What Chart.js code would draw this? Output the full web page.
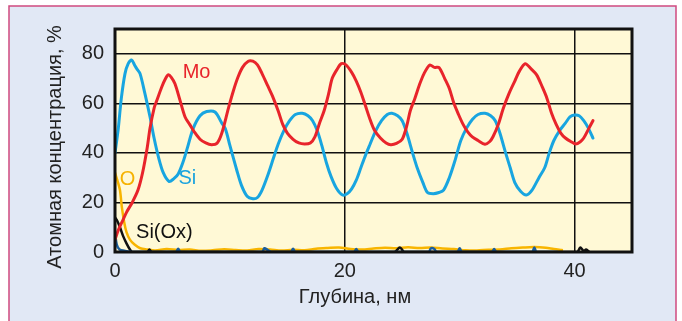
<!DOCTYPE html>
<html>
<head>
<meta charset="utf-8">
<script src="https://cdn.jsdelivr.net/npm/chart.js@4"></script>
<style>
  html, body { margin: 0; padding: 0; background: #fff; }
  canvas { display: block; }
</style>
</head>
<body>
<canvas id="grafica" width="682" height="321"></canvas>
<script>
// Глубина (нм) и концентрация (%) по каждому элементу
const moDepth = [0, 0.3, 0.7, 1.0, 1.5, 2.0, 2.4, 2.8, 3.05, 3.4, 3.63, 4.06, 4.4, 4.64, 4.9, 5.22, 5.66, 6.1, 6.5, 6.9, 7.4, 7.9, 8.4, 8.9, 9.3, 9.87, 10.3, 10.7, 11.1, 11.6, 12.0, 12.4, 12.8, 13.3, 13.7, 14.2, 14.6, 15.0, 15.5, 16.0, 16.5, 17.0, 17.4, 17.8, 18.2, 18.6, 18.9, 19.3, 19.7, 20.1, 20.6, 21.0, 21.4, 21.8, 22.2, 22.6, 23.1, 23.6, 24.0, 24.5, 25.0, 25.4, 25.7, 26.1, 26.5, 26.9, 27.4, 27.8, 28.2, 28.7, 29.1, 29.5, 29.9, 30.3, 30.7, 31.1, 31.6, 32.2, 32.6, 32.9, 33.4, 33.8, 34.3, 34.8, 35.2, 35.7, 36.2, 36.7, 37.2, 37.6, 38.0, 38.4, 38.8, 39.2, 39.7, 40.1, 40.5, 40.8, 41.2, 41.6];
const moConc = [5, 9, 13, 16, 20, 25, 32, 42, 50, 58, 61, 66.5, 70, 71.5, 70.5, 67.9, 61.2, 54.5, 51.5, 48.5, 45.5, 44, 43.3, 44, 48, 58, 65, 70.5, 74.5, 77, 77, 75.5, 72, 67, 63, 57, 51.5, 48, 45.5, 44, 43.6, 44, 46.5, 52, 57, 64, 70, 73.5, 76, 75.5, 72.5, 69, 64.5, 59, 53.5, 49, 46, 44, 43.3, 43.8, 45.5, 51, 57, 62, 67.5, 72, 75.5, 74.5, 74.5, 70, 66, 60, 55.5, 51.5, 48.5, 46.5, 45, 43.5, 44.5, 46.5, 52, 58, 64, 69, 73, 76, 74, 71.5, 66.5, 62, 56, 51.5, 48, 46, 44.5, 43.6, 44.5, 46, 49.5, 53];

const siDepth = [0, 0.15, 0.29, 0.55, 0.87, 1.15, 1.45, 1.7, 1.89, 2.18, 2.6, 3.05, 3.4, 3.8, 4.2, 4.7, 5.1, 5.5, 5.9, 6.3, 6.8, 7.4, 7.98, 8.7, 9.3, 9.6, 10.0, 10.6, 11.0, 11.5, 12.0, 12.4, 12.8, 13.3, 13.8, 14.2, 14.7, 15.2, 15.7, 16.3, 16.8, 17.2, 17.6, 18.0, 18.4, 18.8, 19.3, 19.8, 20.2, 20.6, 21.0, 21.4, 21.8, 22.2, 22.7, 23.2, 23.7, 24.1, 24.6, 25.0, 25.4, 25.9, 26.3, 26.8, 27.2, 27.7, 28.2, 28.6, 29.1, 29.6, 30.1, 30.6, 31.1, 31.6, 32.2, 32.7, 33.1, 33.5, 34.0, 34.4, 34.8, 35.3, 35.8, 36.3, 36.9, 37.4, 37.8, 38.2, 38.7, 39.2, 39.6, 40.0, 40.4, 40.8, 41.2, 41.6];
const siConc = [40, 45, 50, 62, 72, 76, 77.5, 75.5, 74, 72, 64, 54.5, 46, 38, 32, 28.5, 29.5, 31.5, 36, 42, 49.8, 55, 56.7, 56.5, 52, 49.8, 43, 33, 27, 22.5, 21.5, 22, 25, 31, 38, 43.5, 49, 53, 55.5, 56, 55, 53, 49, 43, 36, 30.5, 25.5, 23, 23.5, 25.5, 29, 34, 39, 43.5, 49, 53, 55.5, 56, 55, 53, 48, 40, 34, 28, 24, 23.5, 24, 25, 30, 37, 45, 50, 53.5, 55.5, 56, 55, 53, 48, 40, 34, 28, 24.5, 23, 25, 30, 34, 40, 45, 49, 52, 54.5, 55.3, 55, 53, 50, 46];

const oDepth = [0, 0.2, 0.43, 0.6, 0.8, 1.0, 1.3, 1.7, 2.2, 2.8, 3.5, 4.5, 5.5, 6.5, 7.5, 8.5, 9.5, 10.5, 11.5, 12.5, 13.5, 14.5, 15.5, 16.5, 17.5, 18.5, 19.5, 20.5, 21.5, 22.5, 23.5, 24.5, 25.5, 26.5, 27.5, 28.5, 29.5, 30.5, 31.5, 32.5, 33.5, 34.5, 35.5, 36.5, 37.5, 38.2, 38.9];
const oConc = [32, 29, 25, 18, 12, 8, 5, 3, 1.5, 1, 0.6, 1.2, 0.8, 1.0, 0.5, 0.7, 1.1, 0.8, 0.6, 1.2, 1.0, 0.6, 0.9, 0.7, 1.3, 1.6, 1.8, 1.2, 1.0, 1.4, 1.7, 1.5, 1.9, 1.6, 1.8, 1.4, 1.2, 0.7, 0.6, 0.9, 1.0, 1.5, 1.8, 2.0, 1.7, 1.2, 0.8];

const siOxDepth = [0, 0.2, 0.43, 0.7, 1.0, 1.3, 1.5, 2.8, 3.0, 3.2, 24.3, 24.8, 25.2, 40.2, 40.5, 40.8, 41.0, 41.3];
const siOxConc = [14, 12.5, 10, 6.5, 3.5, 1, 0, 0, 1, 0, 0, 1.8, 0, 0, 1.8, 0.4, 1, 0];

// второй профиль Si (тёмно-синий, у нуля)
const si2Depth = [0, 0.15, 0.4, 0.8, 1.5, 5.3, 5.5, 5.7, 12.8, 13.0, 13.3, 13.6, 15.3, 15.5, 15.7, 20.8, 21.0, 21.2, 27.3, 27.5, 27.8, 28.0, 29.8, 30.0, 30.2, 32.8, 33.0, 33.2, 36.3, 36.5, 36.7, 38.5];
const si2Conc = [8, 3, 1, 0.5, 0, 0, 1.3, 0, 0, 1.5, 0.8, 0, 0, 1.3, 0, 0, 1.2, 0, 0, 1.5, 1.2, 0, 0, 1.5, 0, 0, 1.2, 0, 0, 1.8, 0, 0];

const xTicks = [0, 20, 40];
const yTicks = [0, 20, 40, 60, 80];

const etiquetas = ['Mo', 'Si', 'O', 'Si(Ox)'];

const puntos = (xs, ys) => xs.map((x, i) => ({ x, y: ys[i] }));

// Подписи кривых (в координатах данных)
const anclas = [
  { texto: etiquetas[0], x: 7.1, y: 72.4, color: '#e8242b' },
  { texto: etiquetas[1], x: 6.3, y: 29.8, color: '#1aa3de' },
  { texto: etiquetas[2], x: 1.1, y: 29.2, color: '#f6b200' },
  { texto: etiquetas[3], x: 4.3, y: 8.0, color: '#111' }
];

const fondo = {
  id: 'fondo',
  beforeDraw(chart) {
    const { ctx, chartArea: a } = chart;
    ctx.save();
    ctx.fillStyle = '#ffffff';
    ctx.fillRect(0, 0, chart.width, chart.height);
    ctx.fillStyle = '#e1e8f5';
    ctx.fillRect(9, 6, 667, chart.height);
    ctx.strokeStyle = '#cf4a7f';
    ctx.lineWidth = 1.5;
    ctx.strokeRect(9, 6, 667, chart.height + 10);
    ctx.fillStyle = '#fff9d6';
    ctx.fillRect(a.left, a.top, a.right - a.left, a.bottom - a.top);
    ctx.restore();
  },
  afterDraw(chart) {
    const { ctx, chartArea: a, scales } = chart;
    ctx.save();
    ctx.strokeStyle = '#111';
    ctx.lineWidth = 3;
    ctx.strokeRect(a.left, a.top, a.right - a.left, a.bottom - a.top);

    ctx.textAlign = 'center';
    ctx.textBaseline = 'middle';
    ctx.font = '20px "Liberation Sans", Arial, sans-serif';
    anclas.forEach(l => {
      ctx.fillStyle = l.color;
      ctx.fillText(l.texto, scales.x.getPixelForValue(l.x), scales.y.getPixelForValue(l.y));
    });

    // títulos de ejes
    ctx.fillStyle = '#222';
    ctx.font = '20px "Liberation Sans", Arial, sans-serif';
    ctx.fillText('Глубина, нм', 355, 297);
    ctx.translate(55, 147);
    ctx.rotate(-Math.PI / 2);
    ctx.fillText('Атомная концентрация, %', 0, 0);
    ctx.restore();
  }
};

const fuenteTicks = { family: '"Liberation Sans", Arial, sans-serif', size: 20 };

new Chart(document.getElementById('grafica'), {
  type: 'line',
  data: {
    datasets: [
      { label: 'Mo', data: puntos(moDepth, moConc), borderColor: '#e8242b', borderWidth: 3 },
      { label: 'Si', data: puntos(siDepth, siConc), borderColor: '#18a5e0', borderWidth: 3 },
      { label: 'Si2', data: puntos(si2Depth, si2Conc), borderColor: '#1b5e9e', borderWidth: 2.5 },
      { label: 'Si(Ox)', data: puntos(siOxDepth, siOxConc), borderColor: '#111', borderWidth: 2.5 },
      { label: 'O', data: puntos(oDepth, oConc), borderColor: '#f8b500', borderWidth: 2.5 }
    ]
  },
  options: {
    responsive: false,
    animation: false,
    events: [],
    layout: { padding: { top: 29, right: 50, left: 0, bottom: 0 } },
    elements: {
      point: { radius: 0 },
      line: { tension: 0.3, fill: false, borderJoinStyle: 'round', borderCapStyle: 'round' }
    },
    plugins: { legend: { display: false }, tooltip: { enabled: false } },
    scales: {
      x: {
        type: 'linear', min: 0, max: 45,
        afterBuildTicks: s => { s.ticks = xTicks.map(v => ({ value: v })); },
        afterFit: s => { s.height = 69; },
        grid: { color: '#111', lineWidth: 1.5, drawTicks: false },
        border: { display: false },
        ticks: { padding: 7, color: '#222', font: fuenteTicks, maxRotation: 0 }
      },
      y: {
        min: 0, max: 90,
        afterBuildTicks: s => { s.ticks = yTicks.map(v => ({ value: v })); },
        afterFit: s => { s.width = 115; },
        grid: { color: '#111', lineWidth: 1.5, drawTicks: false },
        border: { display: false },
        ticks: { padding: 11, color: '#222', font: fuenteTicks }
      }
    }
  },
  plugins: [fondo]
});
</script>
</body>
</html>
